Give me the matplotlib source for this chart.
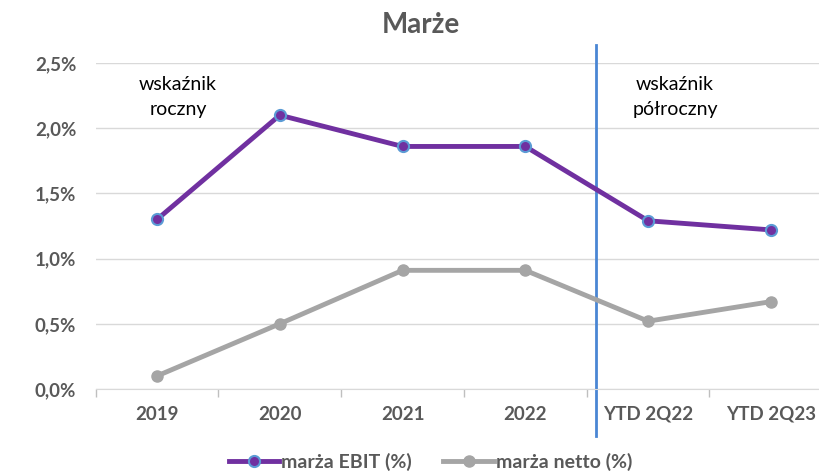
import matplotlib.pyplot as plt
from matplotlib.ticker import FuncFormatter

plt.rcParams['font.family'] = ['Lato', 'DejaVu Sans']

categories = ["2019", "2020", "2021", "2022", "YTD 2Q22", "YTD 2Q23"]
ebit_margin = [1.30, 2.10, 1.86, 1.86, 1.29, 1.22]
net_margin = [0.10, 0.50, 0.91, 0.91, 0.52, 0.67]

gray_txt = "#595959"

fig = plt.figure(figsize=(8.2, 4.73), dpi=100)
ax = fig.add_axes([95.6 / 820, 1 - 389 / 473, 1 - 95.6 / 820, (389 - 63) / 473])

x = list(range(len(categories)))
ax.plot(x, ebit_margin, color="#7030A0", lw=3.5, marker="o", ms=8,
        mfc="#7030A0", mec="#5B9BD5", mew=1.5, label="marża EBIT (%)", zorder=4)
ax.plot(x, net_margin, color="#A5A5A5", lw=3.5, marker="o", ms=8,
        mfc="#A5A5A5", mec="#A5A5A5", label="marża netto (%)", zorder=3)

ax.set_yticks([0, 0.5, 1.0, 1.5, 2.0, 2.5])
ax.yaxis.set_major_formatter(FuncFormatter(lambda v, p: f"{v:.1f}%".replace(".", ",")))
ax.grid(axis="y", color="#D9D9D9", lw=1)
ax.set_axisbelow(True)

ax.set_xticks(x)
ax.set_xticklabels(categories)
ax.set_xticks([i + 0.5 for i in range(-1, 5)], minor=True)
# limits after ticks, set_xticks would widen them otherwise
ax.set_xlim(-0.5, 5.40)
ax.set_ylim(0, 2.5)
ax.tick_params(axis="x", which="major", length=0, pad=12)
ax.tick_params(axis="x", which="minor", length=6, color="#BFBFBF", width=1)
ax.tick_params(axis="y", length=0, pad=14)
for lab in ax.get_xticklabels() + ax.get_yticklabels():
    lab.set_fontsize(13.5)
    lab.set_fontweight("bold")
    lab.set_color(gray_txt)

for s in ["top", "right", "left"]:
    ax.spines[s].set_visible(False)
ax.spines["bottom"].set_color("#D9D9D9")

# separator between yearly and half-year figures
ax.plot([3.575, 3.575], [-0.36, 2.64], color="#4A86D4", lw=2, clip_on=False, zorder=2)

ax.text(0.17, 2.24, "wskaźnik\nroczny", ha="center", va="center", fontsize=14,
        linespacing=1.55)
ax.text(4.22, 2.24, "wskaźnik\npółroczny", ha="center", va="center", fontsize=14,
        linespacing=1.55)

fig.text(0.513, 0.947, "Marże", ha="center", va="center", fontsize=20,
         fontweight="bold", color=gray_txt)

leg = fig.legend(loc="center", bbox_to_anchor=(0.525, 0.024), ncol=2, frameon=False,
                 fontsize=14, handlelength=2.6, columnspacing=1.6, handletextpad=0.1)
for t in leg.get_texts():
    t.set_fontweight("bold")
    t.set_color(gray_txt)

fig.savefig("out.png", dpi=100)
